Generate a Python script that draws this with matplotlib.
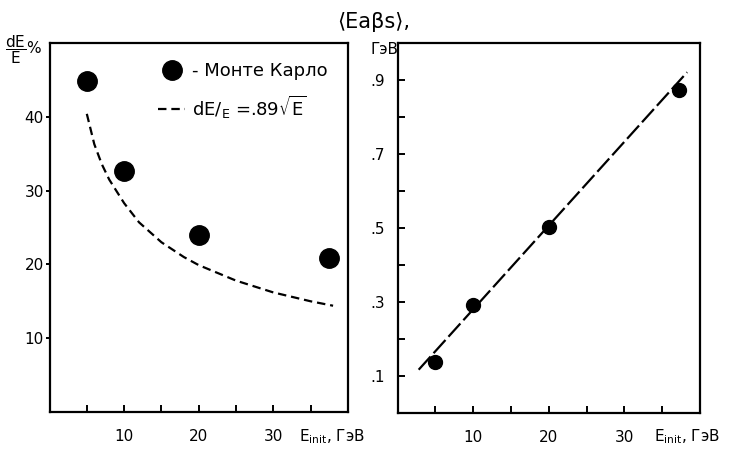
import matplotlib
matplotlib.use('Agg')
import matplotlib.pyplot as plt
from matplotlib.lines import Line2D

plt.rcParams['font.family'] = ['DejaVu Sans', 'Noto Sans']
plt.rcParams['mathtext.fontset'] = 'dejavusans'

# ---- Left panel data: energy resolution ----
mc_energy = [5, 10, 20, 37.5]
mc_resolution = [44.9, 32.6, 24.0, 20.9]
fit_energy = [5, 6, 7, 8, 10, 12, 15, 18, 20, 25, 30, 35, 38]
fit_resolution = [40.4, 36.3, 33.6, 31.5, 28.3, 25.7, 23.0, 21.0, 19.9, 17.8, 16.2, 15.0, 14.4]
left_xticks_major = [10, 20, 30]
left_xticks_minor = [5, 15, 25, 35]
left_yticks = [10, 20, 30, 40]

# ---- Right panel data: mean absorbed energy ----
abs_energy = [5, 10, 20, 37.2]
abs_mean = [0.139, 0.293, 0.504, 0.873]
line_energy = [2.8, 38.3]
line_mean = [0.117, 0.921]
right_xticks_major = [10, 20, 30]
right_xticks_minor = [5, 15, 25, 35]
right_yticks_major = [0.1, 0.3, 0.5, 0.7, 0.9]
right_yticklabels = ['.1', '.3', '.5', '.7', '.9']
right_yticks_minor = [0.2, 0.4, 0.6, 0.8]

FS = 11
W, H = 741, 449
fig = plt.figure(figsize=(W / 100, H / 100), dpi=100)

axL = fig.add_axes([49.5 / W, 1 - 412 / H, 298.5 / W, 369 / H])
axR = fig.add_axes([397.5 / W, 1 - 413 / H, 302.5 / W, 370 / H])

for ax in (axL, axR):
    for s in ax.spines.values():
        s.set_linewidth(1.6)
        s.set_color('black')
    ax.set_xlim(0, 40)

# Left
axL.set_ylim(0, 50)
axL.plot(fit_energy, fit_resolution, color='black', lw=1.6, dashes=(3.8, 2.2))
axL.plot(mc_energy, mc_resolution, 'o', color='black', ms=14)
axL.set_xticks(left_xticks_major)
axL.set_xticks(left_xticks_minor, minor=True)
axL.set_yticks(left_yticks)
axL.set_xticklabels([str(v) for v in left_xticks_major])
axL.set_yticklabels([str(v) for v in left_yticks])
axL.tick_params(axis='x', which='both', direction='in', length=5, width=1.4, pad=12, labelsize=FS)
axL.tick_params(axis='y', which='both', direction='out', length=3, width=1.4, pad=1, labelsize=FS)

handles = [
    Line2D([], [], ls='none', marker='o', color='black', ms=14),
    Line2D([], [], color='black', lw=1.6, dashes=(3.8, 2.2)),
]
labels = ['- Монте Карло', r'dE/$_{\mathregular{E}}$ =.89$\sqrt{\mathregular{E}}$']
axL.legend(handles, labels, loc='upper left', bbox_to_anchor=(0.34, 0.968),
           frameon=False, fontsize=13, handlelength=1.5, handletextpad=0.35,
           labelspacing=0.75, borderaxespad=0)

fig.text(5 / W, 1 - 50 / H, r'$\mathregular{\dfrac{dE}{E}}$%', fontsize=11, va='center', ha='left')
fig.text(299 / W, (H - 441) / H, r'E$_{\mathregular{init}}$, ГэВ', fontsize=FS, va='baseline', ha='left')

# Right
axR.set_ylim(0, 1.0)
axR.plot(line_energy, line_mean, color='black', lw=1.6, dashes=(8, 2))
axR.plot(abs_energy, abs_mean, 'o', color='black', ms=10)
axR.set_xticks(right_xticks_major)
axR.set_xticks(right_xticks_minor, minor=True)
axR.set_xticklabels([str(v) for v in right_xticks_major])
axR.set_yticks(right_yticks_major)
axR.set_yticks(right_yticks_minor, minor=True)
axR.set_yticklabels(right_yticklabels)
axR.tick_params(axis='both', which='both', direction='in', length=5, width=1.4, labelsize=FS)
axR.tick_params(axis='x', pad=12)
axR.tick_params(axis='y', pad=9)

fig.text(374 / W, 1 - 22 / H, '⟨Eaβs⟩,', fontsize=15, va='center', ha='center',
         family=['DejaVu Sans', 'Noto Sans CJK SC'])
fig.text(398 / W, 1 - 49 / H, 'ГэВ', fontsize=FS, va='center', ha='right')
fig.text(654 / W, (H - 441) / H, r'E$_{\mathregular{init}}$, ГэВ', fontsize=FS, va='baseline', ha='left')

fig.savefig('out.png', dpi=100)
